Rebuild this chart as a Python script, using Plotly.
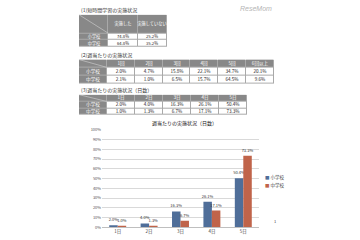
import plotly.graph_objects as go

W, H = 360, 240
FONT = "Noto Sans CJK JP"
GRAY = "#888888"
BORDER = "#a9a9a9"
BLUE = "#4f6e99"
ORANGE = "#c0644a"

# ---- data ----
t1_title = "(1)短時間学習の実施状況"
t1_cols = ["実施した", "実施していない"]
row_labels = ["小学校", "中学校"]
t1_elem = ["74.8%", "25.2%"]
t1_mid = ["64.8%", "35.2%"]

t2_title = "(2)週当たりの実施状況"
t2_cols = ["1回", "2回", "3回", "4回", "5回", "6回以上"]
t2_elem = ["2.0%", "4.7%", "15.8%", "22.1%", "34.7%", "20.1%"]
t2_mid = ["2.1%", "1.0%", "6.5%", "15.7%", "64.5%", "9.6%"]

t3_title = "(3)週当たりの実施状況（日数）"
days = ["1日", "2日", "3日", "4日", "5日"]
elem = [2.0, 4.0, 16.3, 26.1, 50.4]
mid = [1.0, 1.3, 6.7, 17.1, 73.3]

chart_title = "週当たりの実施状況（日数）"
series_names = ["小学校", "中学校"]
yticks = list(range(0, 101, 10))


def px(x):
    return x / W


def py(y):
    return 1 - y / H


fig = go.Figure()
layout_axes = {}


def add_table(k, x0, x1, y0, y1, cols, elem_vals, mid_vals, hh, rh, fs):
    n = len(cols) + 1
    xa, ya = f"x{k}", f"y{k}"
    xedges = [i for i in range(n + 1)]
    yedges = [0, hh, hh + rh, hh + 2 * rh]
    total = yedges[-1]
    text = [[""] + cols,
            [row_labels[0]] + list(elem_vals),
            [row_labels[1]] + list(mid_vals)]
    is_gray = [[True] * n, [True] + [False] * (n - 1), [True] + [False] * (n - 1)]
    # border layer
    fig.add_trace(go.Heatmap(x=xedges, y=yedges, z=[[0] * n] * 3,
                             colorscale=[[0, BORDER], [1, BORDER]], showscale=False,
                             xaxis=xa, yaxis=ya, hoverinfo="skip"))
    for want, fill, fcol in [(True, GRAY, "white"), (False, "white", "#222222")]:
        z = [[1 if g == want else None for g in row] for row in is_gray]
        t = [[s if g == want else "" for s, g in zip(trow, grow)]
             for trow, grow in zip(text, is_gray)]
        fig.add_trace(go.Heatmap(x=xedges, y=yedges, z=z, zmin=0, zmax=1,
                                 colorscale=[[0, fill], [1, fill]], showscale=False,
                                 xgap=1, ygap=1, text=t, texttemplate="%{text}",
                                 textfont=dict(family=FONT, size=fs, color=fcol),
                                 xaxis=xa, yaxis=ya, hoverinfo="skip"))
    # diagonal in top-left header cell
    fig.add_trace(go.Scatter(x=[0, 1], y=[0, hh], mode="lines",
                             line=dict(color="#d4d4d4", width=0.6),
                             xaxis=xa, yaxis=ya, showlegend=False, hoverinfo="skip"))
    layout_axes[f"xaxis{k}"] = dict(domain=[px(x0), px(x1)], range=[0, n],
                                    visible=False, fixedrange=True, anchor=ya)
    layout_axes[f"yaxis{k}"] = dict(domain=[py(y1), py(y0)], range=[total, 0],
                                    visible=False, fixedrange=True, anchor=xa)


add_table(2, 79, 167, 11, 44, t1_cols, t1_elem, t1_mid, 19, 7, 4.2)
add_table(3, 79, 274, 57, 82, t2_cols, t2_elem, t2_mid, 8, 8.5, 4.6)
add_table(4, 79, 247, 93, 114, days, [f"{v:.1f}%" for v in elem],
          [f"{v:.1f}%" for v in mid], 7, 7, 4.6)

for txt, y in [(t1_title, 6), (t2_title, 52), (t3_title, 88.5)]:
    fig.add_annotation(x=px(79), y=py(y), xref="paper", yref="paper",
                       text=txt, showarrow=False, xanchor="left", yanchor="middle",
                       font=dict(family=FONT, size=5, color="#333333"))

for name, vals, col in [(series_names[0], elem, BLUE), (series_names[1], mid, ORANGE)]:
    fig.add_trace(go.Bar(
        x=days, y=vals, name=name, marker=dict(color=col, line_width=0),
        text=[f"{v:.1f}%" for v in vals], textposition="outside",
        constraintext="none", cliponaxis=False,
        textfont=dict(family=FONT, size=4, color="#333333"),
        showlegend=False, xaxis="x", yaxis="y"))

fig.update_layout(
    width=W, height=H, margin=dict(l=0, r=0, t=0, b=0),
    paper_bgcolor="white", plot_bgcolor="white",
    barmode="group", bargap=0.46, bargroupgap=0,
    font=dict(family=FONT),
    xaxis=dict(domain=[px(102), px(259)], showline=True, linecolor="#bfbfbf",
               linewidth=0.6, ticks="", tickfont=dict(size=4.5, color="#444444")),
    yaxis=dict(domain=[py(229), py(129)], range=[0, 100], tickvals=yticks,
               ticktext=[f"{v}%" for v in yticks], showgrid=True,
               gridcolor="#d9d9d9", gridwidth=0.6, zeroline=False,
               tickfont=dict(size=4, color="#555555"), ticklen=0),
    **layout_axes,
)

fig.add_annotation(x=px(185), y=py(122), xref="paper", yref="paper",
                   text=chart_title, showarrow=False, yanchor="middle",
                   font=dict(family=FONT, size=5, color="#111111"))

for i, (name, col) in enumerate([(series_names[0], BLUE), (series_names[1], ORANGE)]):
    fig.add_annotation(x=px(263), y=py(178 + 8 * i), xref="paper", yref="paper",
                       xanchor="left", yanchor="middle", showarrow=False,
                       text=f'<span style="color:{col}">■</span> {name}',
                       font=dict(family=FONT, size=4.5, color="#444444"))

fig.add_annotation(x=px(278), y=py(223), xref="paper", yref="paper",
                   text="1", showarrow=False, yanchor="middle",
                   font=dict(family=FONT, size=4, color="#444444"))

fig.add_annotation(x=px(274), y=py(5), xref="paper", yref="paper",
                   text="<i>ReseMom</i>", showarrow=False, yanchor="middle",
                   font=dict(family="Liberation Sans", size=7, color="#b5b5b5"))

fig.write_html("out.html")
